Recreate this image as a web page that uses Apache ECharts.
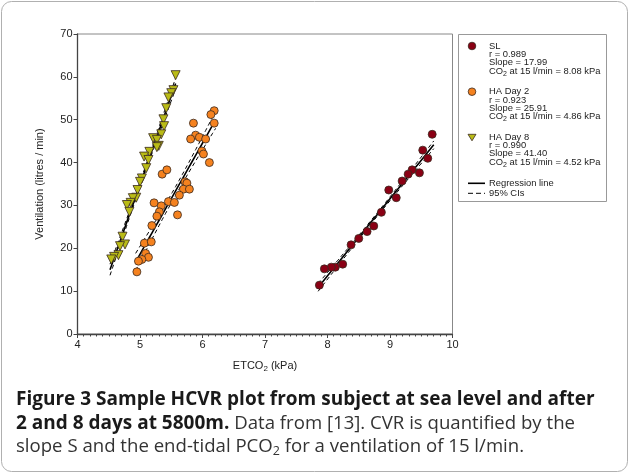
<!DOCTYPE html>
<html>
<head>
<meta charset="utf-8">
<script src="https://cdn.jsdelivr.net/npm/echarts@6/dist/echarts.min.js"></script>
<style>
html,body{margin:0;padding:0;background:#fff;}
#chart{width:629px;height:474px;}
</style>
</head>
<body>
<div id="chart"></div>
<script>
// ---- Data ----
const seriesNames = ['SL', 'HA Day 2', 'HA Day 8'];

const slX = [9.675, 9.524, 9.604, 9.471, 9.354, 9.29, 9.194, 8.98, 9.10, 8.862, 8.74, 8.633, 8.50, 8.377, 8.243, 8.125, 8.06, 7.95, 7.87];
const slY = [46.6, 42.9, 41.0, 37.6, 38.3, 37.3, 35.7, 33.6, 31.8, 28.4, 25.2, 23.9, 22.3, 20.8, 16.3, 15.6, 15.6, 15.2, 11.4];

const d2X = [6.187, 6.134, 6.187, 5.855, 5.89, 5.95, 5.81, 6.05, 5.99, 6.015, 6.11, 5.354, 5.43, 5.72, 5.75, 5.695, 5.79, 5.63, 5.455, 5.55, 5.225, 5.34, 5.31, 5.27, 5.60, 5.19, 5.07, 5.18, 5.09, 5.135, 5.03, 4.975, 4.95];
const d2Y = [52.1, 51.2, 49.2, 49.2, 46.4, 45.9, 45.5, 45.5, 42.7, 42.0, 40.0, 37.3, 38.3, 35.5, 35.2, 33.8, 33.8, 32.4, 30.9, 30.7, 30.6, 29.9, 28.5, 27.5, 27.8, 25.3, 21.2, 21.5, 18.8, 17.9, 17.4, 17.0, 14.5];

const d8X = [5.57, 5.535, 5.50, 5.455, 5.42, 5.375, 5.385, 5.34, 5.21, 5.27, 5.30, 5.27, 5.15, 5.065, 5.135, 5.10, 5.03, 5.00, 4.96, 4.94, 4.885, 4.85, 4.79, 4.83, 4.72, 4.76, 4.68, 4.655, 4.585, 4.54];
const d8Y = [60.4, 56.9, 56.2, 55.2, 52.7, 50.1, 48.5, 46.6, 45.7, 45.3, 43.9, 43.6, 42.5, 41.4, 40.6, 38.7, 36.3, 35.5, 33.6, 31.8, 31.7, 30.6, 30.1, 28.5, 22.7, 20.9, 20.5, 18.4, 18.0, 17.4];

// regression summary (from legend) and drawn extent of lines
const rValues   = ['0.989', '0.923', '0.990'];
const slopes    = [17.99, 25.91, 41.40];
const co2At15   = [8.08, 4.86, 4.52];
const lineXMin  = [7.85, 4.93, 4.52];
const lineXMax  = [9.70, 6.21, 5.57];
const ciHalfMid = [0.4, 1.0, 0.6];   // CI half-width (l/min) at centre
const ciHalfEnd = [0.9, 2.0, 1.3];   // CI half-width (l/min) at line ends

const xTicks = [4, 5, 6, 7, 8, 9, 10];
const yTicks = [0, 10, 20, 30, 40, 50, 60, 70];

const colors = ['#8a0014', '#f5821f', '#b9bb17'];

// ---- build ----
function zip(xs, ys) { return xs.map((x, i) => [x, ys[i]]); }
function regLine(i) {
  const out = [];
  const n = 24;
  for (let k = 0; k <= n; k++) {
    const x = lineXMin[i] + (lineXMax[i] - lineXMin[i]) * k / n;
    out.push([x, 15 + slopes[i] * (x - co2At15[i])]);
  }
  return out;
}
function ciLine(i, sign) {
  const xm = (lineXMin[i] + lineXMax[i]) / 2, h = (lineXMax[i] - lineXMin[i]) / 2;
  return regLine(i).map(([x, y]) => {
    const t = (x - xm) / h;
    const hw = Math.sqrt(ciHalfMid[i] ** 2 + (ciHalfEnd[i] ** 2 - ciHalfMid[i] ** 2) * t * t);
    return [x, y + sign * hw];
  });
}

const series = [];
for (let i = 0; i < 3; i++) {
  series.push({ type: 'line', data: regLine(i), symbol: 'none', silent: true, z: 2,
    lineStyle: { color: '#000', width: 1.6 } });
  [-1, 1].forEach(s => series.push({ type: 'line', data: ciLine(i, s), symbol: 'none', silent: true, z: 2,
    lineStyle: { color: '#000', width: 1, type: [4, 3] } }));
}
const pts = [zip(slX, slY), zip(d2X, d2Y), zip(d8X, d8Y)];
for (let i = 0; i < 3; i++) {
  series.push({
    type: 'scatter', name: seriesNames[i], data: pts[i], z: 5,
    symbol: i === 2 ? 'triangle' : 'circle',
    symbolRotate: i === 2 ? 180 : 0,
    symbolSize: i === 2 ? 9 : 8,
    itemStyle: { color: colors[i], borderColor: '#3a2a20', borderWidth: 0.8, opacity: 1 }
  });
}

const FF = '"Liberation Sans", Arial, sans-serif';
const chart = echarts.init(document.getElementById('chart'), null, { renderer: 'canvas' });

// legend as graphic
const lg = [];
const lx = 489, mx = 472;
const rowTop = [46, 91.7, 137.3];
const lfs = 9.4;
function lgText(x, y, txt) {
  return { type: 'text', x: x, y: y, style: { text: txt, font: lfs + 'px ' + FF, fill: '#222', verticalAlign: 'middle',
    rich: { s: { fontSize: 7, fontFamily: 'Liberation Sans', padding: [5, 0, 0, 0], fill: '#222' }, n: { fontSize: lfs, fontFamily: 'Liberation Sans', fill: '#222' } } } };
}
lg.push({ type: 'rect', shape: { x: 458.5, y: 34.5, width: 148, height: 167 }, style: { fill: '#fff', stroke: '#999', lineWidth: 1 } });
for (let i = 0; i < 3; i++) {
  const y0 = rowTop[i];
  if (i < 2) {
    lg.push({ type: 'circle', shape: { cx: mx, cy: y0, r: 3.8 }, style: { fill: colors[i], stroke: '#3a2a20', lineWidth: 0.8 } });
  } else {
    lg.push({ type: 'polygon', shape: { points: [[mx - 4, y0 - 3], [mx + 4, y0 - 3], [mx, y0 + 3.5]] }, style: { fill: colors[i], stroke: '#3a2a20', lineWidth: 0.8 } });
  }
  lg.push(lgText(lx, y0, seriesNames[i]));
  lg.push(lgText(lx, y0 + 8.3, 'r = ' + rValues[i]));
  lg.push(lgText(lx, y0 + 16.6, 'Slope = ' + slopes[i].toFixed(2)));
  lg.push(lgText(lx, y0 + 25.2, '{n|CO}{s|2}{n| at 15 l/min = ' + co2At15[i].toFixed(2) + ' kPa}'));
}
lg.push({ type: 'line', shape: { x1: 468, y1: 183.3, x2: 485, y2: 183.3 }, style: { stroke: '#000', lineWidth: 1.6 } });
lg.push(lgText(lx, 183.3, 'Regression line'));
lg.push({ type: 'line', shape: { x1: 468, y1: 193.3, x2: 485, y2: 193.3 }, style: { stroke: '#000', lineWidth: 1, lineDash: [5, 3] } });
lg.push(lgText(lx, 193.3, '95% CIs'));

const CF = '"Open Sans", "Noto Sans", sans-serif';
const caption = {
  type: 'text', x: 16, y: 388,
  style: {
    text: '{b|Figure 3 Sample HCVR plot from subject at sea level and after}\n{b|2 and 8 days at 5800m.}{r| Data from [13]. CVR is quantified by the}\n{r|slope S and the end-tidal PCO}{s|2}{r| for a ventilation of 15 l/min.}',
    rich: {
      b: { fontFamily: CF, fontSize: 19, fontWeight: 'bold', fill: '#1a1a1a', lineHeight: 23.5 },
      r: { fontFamily: CF, fontSize: 18.6, fill: '#333', lineHeight: 23.5 },
      s: { fontFamily: CF, fontSize: 12.5, fill: '#333', lineHeight: 23.5, padding: [10, 0, 0, 0] }
    }
  }
};

chart.setOption({
  animation: false,
  backgroundColor: '#fff',
  grid: { left: 77.5, right: 176.5, top: 34, bottom: 140, show: true, borderColor: '#888', borderWidth: 1, backgroundColor: 'transparent' },
  xAxis: {
    type: 'value', min: xTicks[0], max: xTicks[xTicks.length - 1], interval: 1,
    name: '{n|ETCO}{s|2}{n| (kPa)}', nameLocation: 'middle', nameGap: 24,
    nameTextStyle: { rich: { n: { fontFamily: FF, fontSize: 11, color: '#222' }, s: { fontFamily: FF, fontSize: 8, color: '#222', padding: [7, 0, 0, 0] } } },
    axisLine: { lineStyle: { color: '#444', width: 1.3 } },
    axisTick: { length: 4, lineStyle: { color: '#444' } },
    minorTick: { show: true, splitNumber: 10, length: 2.5, lineStyle: { color: '#444' } },
    axisLabel: { fontFamily: FF, fontSize: 11, color: '#222', margin: 5 },
    splitLine: { show: false }
  },
  yAxis: {
    type: 'value', min: yTicks[0], max: yTicks[yTicks.length - 1], interval: 10,
    name: 'Ventilation (litres / min)', nameLocation: 'middle', nameGap: 32,
    nameTextStyle: { fontFamily: FF, fontSize: 11, color: '#222' },
    axisLine: { lineStyle: { color: '#444', width: 1.3 } },
    axisTick: { length: 4, lineStyle: { color: '#444' } },
    axisLabel: { fontFamily: FF, fontSize: 11, color: '#222', margin: 5 },
    splitLine: { show: false }
  },
  series: series,
  graphic: [
    { type: 'rect', shape: { x: 1.5, y: 1.5, width: 626, height: 470, r: 10 }, style: { fill: 'none', stroke: '#b0b0b0', lineWidth: 1 }, z: -1 },
    ...lg,
    caption
  ]
});
</script>
</body>
</html>
